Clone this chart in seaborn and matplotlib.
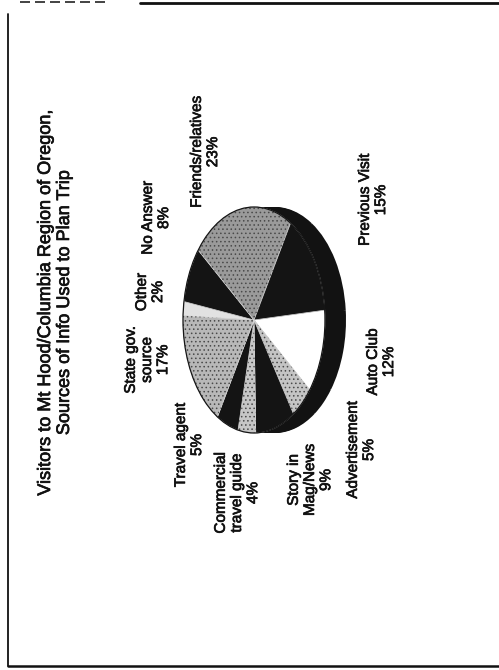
import matplotlib
matplotlib.use("Agg")
import matplotlib.pyplot as plt
import matplotlib.patheffects as pe
from matplotlib.lines import Line2D
from matplotlib.patches import Ellipse
import numpy as np
import seaborn as sns

# Survey answers, listed clockwise from the white "Auto Club" wedge
sources = ["Auto Club", "Advertisement", "Story in\nMag/News", "Commercial\ntravel guide",
           "Travel agent", "State gov.\nsource", "Other", "No Answer",
           "Friends/relatives", "Previous Visit"]
shares = [12, 5, 9, 4, 5, 17, 2, 8, 23, 15]
title_lines = ["Visitors to Mt Hood/Columbia Region of Oregon,",
               "Sources of Info Used to Plan Trip"]

# Greyscale fills for the top face of the pie, with a dot screen on the greys
fills = ["#ffffff", "#c4c4c4", "#141414", "#c6c6c6", "#141414",
         "#b8b8b8", "#e2e2e2", "#141414", "#9a9a9a", "#141414"]
screens = [None, "....", None, "....", None, "....", None, None, "....", None]

sns.set_theme(style="white")
plt.rcParams["font.family"] = ["Liberation Sans", "DejaVu Sans"]
plt.rcParams["hatch.linewidth"] = 0.6

W, H = 499, 670
fig = plt.figure(figsize=(W / 100, H / 100), dpi=100)
fig.patch.set_facecolor("white")

# page overlay in pixel coordinates (y grows downward)
page = fig.add_axes([0, 0, 1, 1])
page.set_xlim(0, W)
page.set_ylim(H, 0)
page.axis("off")

# frame around the slide
page.add_line(Line2D([8, 8], [14, 666], color="#111111", lw=1.3))
page.add_line(Line2D([8, W], [666, 666], lw=1.8, color="#111111"))
page.add_line(Line2D([140, W], [2.5, 2.5], lw=2.0, color="#111111"))
page.add_line(Line2D([20, 110], [1.5, 1.5], lw=1.2, color="#222222", ls=(0, (6, 3))))

# pie: top face ellipse centred at (254, 320) px with semi-axes 71 x 113 px
cx, cy, a, b = 254, 320, 71, 113
pie_ax = fig.add_axes([(cx - a) / W, (H - (cy + b)) / H, 2 * a / W, 2 * b / H])
depth = 21 / a
start = 5

# side wall of the tilted pie, built up from the back
for dx in np.linspace(depth, 0.0, 18)[:-1]:
    pie_ax.pie(shares, colors=["#121212"] * len(shares), startangle=start,
               counterclock=False, center=(dx, 0), radius=1,
               wedgeprops=dict(linewidth=0, edgecolor="none"))

wedges, _ = pie_ax.pie(shares, colors=fills, startangle=start, counterclock=False,
                       center=(0, 0), radius=1,
                       wedgeprops=dict(linewidth=0.5, edgecolor="#d8d8d8"))
for w in wedges:
    w.set_clip_on(False)

# dot screen overlay on the grey wedges
screen_wedges, _ = pie_ax.pie(shares, colors=["none"] * len(shares), startangle=start,
                              counterclock=False, center=(0, 0), radius=1,
                              wedgeprops=dict(linewidth=0, edgecolor="#4a4a4a"))
for w, h in zip(screen_wedges, screens):
    w.set_facecolor("none")
    w.set_clip_on(False)
    if h:
        w.set_hatch(h)
    else:
        w.set_visible(False)

rim = Ellipse((0, 0), 2, 2, fill=False, edgecolor="#151515", lw=0.9, clip_on=False)
pie_ax.add_patch(rim)
pie_ax.set_aspect("auto")
pie_ax.set_xlim(-1, 1)
pie_ax.set_ylim(-1, 1)
pie_ax.axis("off")

ink = [pe.withStroke(linewidth=0.5, foreground="#111111")]

# title, turned to read bottom to top
page.text(55, 303, "\n".join(title_lines), rotation=90, ha="center", va="center",
          multialignment="center", fontsize=13, color="#111111", linespacing=1.15,
          path_effects=ink)

# category labels with their percentages
label_pos = {
    "Friends/relatives": (205, 152),
    "Previous Visit": (373, 200),
    "No Answer": (156, 218),
    "Other": (150, 292),
    "State gov.\nsource": (147, 360),
    "Travel agent": (189, 445),
    "Commercial\ntravel guide": (237, 493),
    "Story in\nMag/News": (310, 480),
    "Advertisement": (361, 450),
    "Auto Club": (381, 362),
}
for name, val in zip(sources, shares):
    x, y = label_pos[name]
    page.text(x, y, f"{name}\n{val}%", rotation=90, ha="center", va="center",
              multialignment="center", fontsize=11, color="#111111", linespacing=1.2,
              path_effects=ink)

fig.savefig("out.png", dpi=100, facecolor="white")
